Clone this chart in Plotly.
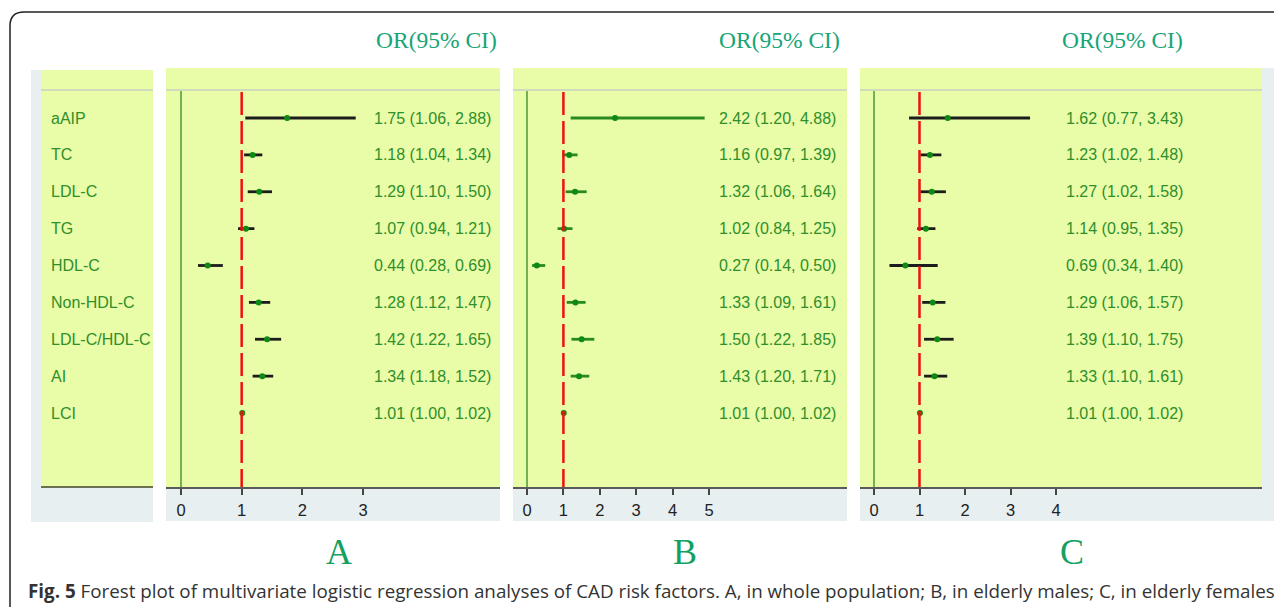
import plotly.graph_objects as go

# ---------------- data ----------------
factors = ["aAIP", "TC", "LDL-C", "TG", "HDL-C", "Non-HDL-C", "LDL-C/HDL-C", "AI", "LCI"]

or_A = [1.75, 1.18, 1.29, 1.07, 0.44, 1.28, 1.42, 1.34, 1.01]
lo_A = [1.06, 1.04, 1.10, 0.94, 0.28, 1.12, 1.22, 1.18, 1.00]
hi_A = [2.88, 1.34, 1.50, 1.21, 0.69, 1.47, 1.65, 1.52, 1.02]

or_B = [2.42, 1.16, 1.32, 1.02, 0.27, 1.33, 1.50, 1.43, 1.01]
lo_B = [1.20, 0.97, 1.06, 0.84, 0.14, 1.09, 1.22, 1.20, 1.00]
hi_B = [4.88, 1.39, 1.64, 1.25, 0.50, 1.61, 1.85, 1.71, 1.02]

or_C = [1.62, 1.23, 1.27, 1.14, 0.69, 1.29, 1.39, 1.33, 1.01]
lo_C = [0.77, 1.02, 1.02, 0.95, 0.34, 1.06, 1.10, 1.10, 1.00]
hi_C = [3.43, 1.48, 1.58, 1.35, 1.40, 1.57, 1.75, 1.61, 1.02]

ticks_A = [0, 1, 2, 3]
ticks_B = [0, 1, 2, 3, 4, 5]
ticks_C = [0, 1, 2, 3, 4]

panel_letters = ["A", "B", "C"]
header_text = "OR(95% CI)"
caption_bold = "Fig. 5"
caption_rest = (" Forest plot of multivariate logistic regression analyses of CAD risk factors. "
                "A, in whole population; B, in elderly males; C, in elderly females")

# ---------------- layout helpers ----------------
OFF = 8  # page body margin
W, H = 1282 - OFF, 607 - OFF
def px(x):
    return (x - OFF) / W
def py(y):
    return 1 - (y - OFF) / H

YELLOW = "#e9fca8"
GREYBLUE = "#e7eff1"
TXT_GREEN = "#2f8f2a"
HEAD_GREEN = "#17a577"

ROW0, ROWSTEP = 118, 36.875
TOP, BOT = 68, 487
y_top = (TOP - ROW0) / ROWSTEP
y_bot = (BOT - ROW0) / ROWSTEP
rows = list(range(len(factors)))

panels = [
    # (or, lo, hi, ticks, left px, right px, zero px, unit px, ci colour, text right px, header cx, letter cx)
    (or_A, lo_A, hi_A, ticks_A, 166, 500, 181, 60.67, "#1c1c1c", 493, 436, 339),
    (or_B, lo_B, hi_B, ticks_B, 513, 847, 527, 36.4, "#2a8a22", 838, 779, 685),
    (or_C, lo_C, hi_C, ticks_C, 860, 1262, 874, 45.5, "#1c1c1c", 1185, 1122, 1072),
]

fig = go.Figure()
shapes = []
annotations = []

# outer rounded frame
shapes.append(dict(type="path", xref="paper", yref="paper",
                   path=f"M {px(10)},{py(620)} L {px(10)},{py(26)} Q {px(10)},{py(12)} {px(24)},{py(12)} L {px(1300)},{py(12)}",
                   line=dict(color="#222", width=1.5)))

# label panel
shapes.append(dict(type="rect", xref="paper", yref="paper", x0=px(31), x1=px(153), y0=py(522), y1=py(70),
                   fillcolor=GREYBLUE, line=dict(width=0), layer="below"))
shapes.append(dict(type="rect", xref="paper", yref="paper", x0=px(41), x1=px(153), y0=py(487), y1=py(70),
                   fillcolor=YELLOW, line=dict(width=0), layer="below"))
shapes.append(dict(type="line", xref="paper", yref="paper", x0=px(41), x1=px(153), y0=py(90), y1=py(90),
                   line=dict(color="#c9cfc0", width=1.5)))
shapes.append(dict(type="line", xref="paper", yref="paper", x0=px(41), x1=px(153), y0=py(487), y1=py(487),
                   line=dict(color="#6b7050", width=2)))
for i, f in enumerate(factors):
    annotations.append(dict(text=f, xref="paper", yref="y", x=px(49), y=i, xanchor="left", yanchor="middle",
                            showarrow=False, font=dict(family="Arial", size=16, color=TXT_GREEN)))

for k, (orv, lo, hi, ticks, L, R, Z, U, cicol, tx, hx, lx) in enumerate(panels):
    ax = "" if k == 0 else str(k + 1)
    xa, ya = "x" + ax, "y" + ax
    # background boxes
    shapes.append(dict(type="rect", xref="paper", yref="paper", x0=px(L), x1=px(R), y0=py(521), y1=py(BOT),
                       fillcolor=GREYBLUE, line=dict(width=0), layer="below"))
    if k == 2:
        shapes.append(dict(type="rect", xref="paper", yref="paper", x0=px(R), x1=px(1275), y0=py(521), y1=py(TOP),
                           fillcolor=GREYBLUE, line=dict(width=0), layer="below"))
    shapes.append(dict(type="line", xref="paper", yref="paper", x0=px(L), x1=px(R), y0=py(90), y1=py(90),
                       line=dict(color="#c9cfc0", width=1.5)))
    # reference lines
    shapes.append(dict(type="line", xref=xa, yref=ya, x0=0, x1=0, y0=(91 - ROW0) / ROWSTEP, y1=y_bot,
                       line=dict(color="#4a9a3a", width=1.5)))
    shapes.append(dict(type="line", xref=xa, yref=ya, x0=1, x1=1, y0=(92 - ROW0) / ROWSTEP, y1=y_bot,
                       line=dict(color="#f01010", width=2.5, dash="23px,6px")))
    # CI lines
    xs, ys = [], []
    for i in rows:
        xs += [lo[i], hi[i], None]
        ys += [i, i, None]
    fig.add_trace(go.Scatter(x=xs, y=ys, mode="lines", line=dict(color=cicol, width=2.8),
                             xaxis=xa, yaxis=ya, hoverinfo="skip", showlegend=False))
    fig.add_trace(go.Scatter(x=orv, y=rows, mode="markers", marker=dict(color="#0c8a12", size=6),
                             xaxis=xa, yaxis=ya, showlegend=False))
    # OR text
    for i in rows:
        annotations.append(dict(text=f"{orv[i]:.2f} ({lo[i]:.2f}, {hi[i]:.2f})", xref="paper", yref=ya,
                                x=px(tx), y=i, xanchor="right", yanchor="middle", showarrow=False,
                                font=dict(family="Arial", size=16, color=TXT_GREEN)))
    annotations.append(dict(text=header_text, xref="paper", yref="paper", x=px(hx), y=py(40),
                            xanchor="center", yanchor="middle", showarrow=False,
                            font=dict(family="Liberation Serif", size=23.5, color=HEAD_GREEN)))
    annotations.append(dict(text=panel_letters[k], xref="paper", yref="paper", x=px(lx), y=py(552),
                            xanchor="center", yanchor="middle", showarrow=False,
                            font=dict(family="Liberation Serif", size=36, color="#13a060")))
    xr = [(L - Z) / U, (R - Z) / U]
    fig.layout["xaxis" + ax] = dict(domain=[px(L), px(R)], range=xr, tickvals=ticks, ticktext=[str(t) for t in ticks],
                                    showgrid=False, zeroline=False, showline=True, linecolor="#5a5a5a", linewidth=2,
                                    ticks="outside", ticklen=6, tickwidth=1.5, tickcolor="#444",
                                    tickfont=dict(family="Arial", size=16.5, color="#222"), ticklabelstandoff=1,
                                    anchor=ya, fixedrange=True)
    fig.layout["yaxis" + ax] = dict(domain=[py(BOT), py(TOP)], range=[y_bot, y_top], visible=False,
                                    anchor=xa, fixedrange=True)

annotations.append(dict(text=f"<b>{caption_bold}</b>{caption_rest}", xref="paper", yref="paper",
                        x=px(26), y=py(591), xanchor="left", yanchor="middle", showarrow=False,
                        font=dict(family="Open Sans", size=18.8, color="#333")))

fig.update_layout(width=W, height=H, autosize=False, margin=dict(l=0, r=0, t=0, b=0),
                  paper_bgcolor="white", plot_bgcolor=YELLOW, shapes=shapes, annotations=annotations)
fig.write_html("out.html")
